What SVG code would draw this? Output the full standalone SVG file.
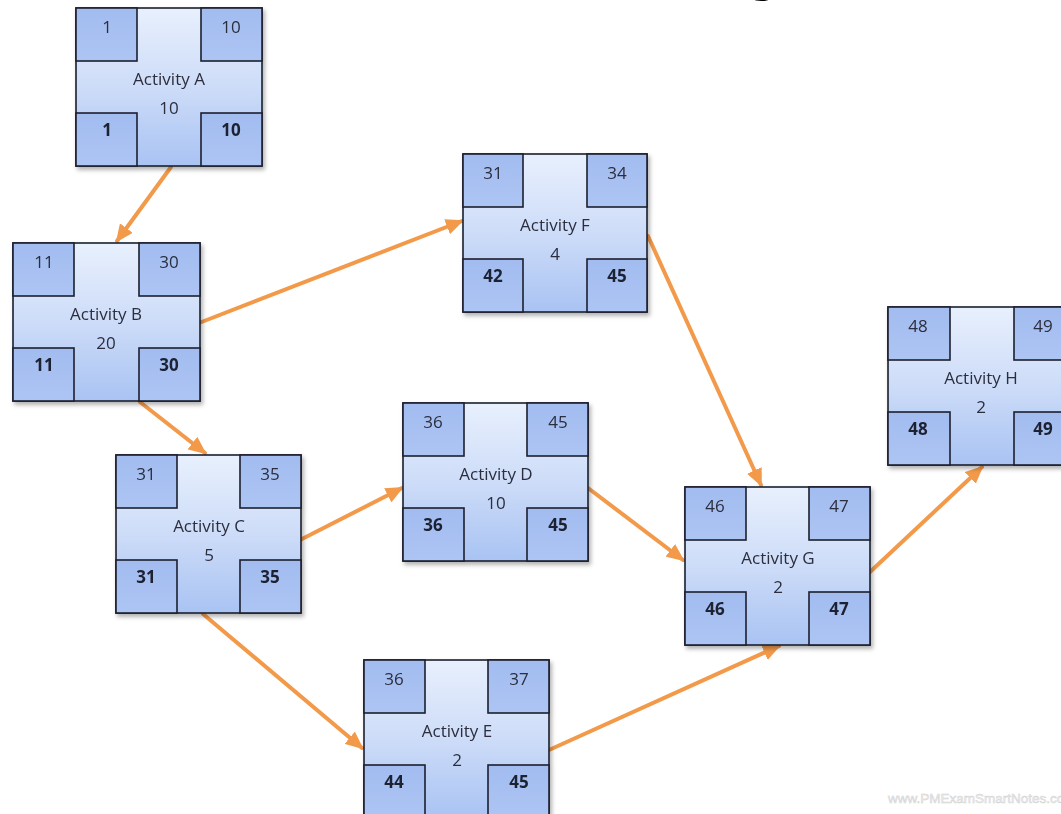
<svg xmlns="http://www.w3.org/2000/svg" width="1061" height="814" viewBox="0 0 1061 814">
<style>
.bg{fill:url(#ng);stroke:#1c1f2e;stroke-width:1.6}
.cb{fill:url(#cg);stroke:#1c1f2e;stroke-width:1.6}
.n{font-family:"Open Sans","Liberation Sans",sans-serif;font-size:17px;fill:#2b2d3d;text-anchor:middle}
.nb{font-family:"Open Sans","Liberation Sans",sans-serif;font-size:17px;font-weight:bold;fill:#1d2033;text-anchor:middle}
.t{font-family:"Open Sans","Liberation Sans",sans-serif;font-size:17px;fill:#2b2d3d;text-anchor:middle}
.e{fill:none;stroke:#f29a4a;stroke-width:4;stroke-linecap:round;marker-end:url(#ah)}
.wm{font-family:"Liberation Sans",sans-serif;font-size:13.5px;fill:#f4f4f4;stroke:#d0d0d0;stroke-width:0.5}
.ttl{font-family:"Liberation Sans",sans-serif;font-size:60px;font-weight:bold;fill:#000;text-anchor:middle}
</style>
<defs>
<linearGradient id="ng" x1="0" y1="0" x2="0" y2="1">
<stop offset="0" stop-color="#e8f0fd"/>
<stop offset="0.5" stop-color="#cddcf8"/>
<stop offset="1" stop-color="#a9c3f3"/>
</linearGradient>
<linearGradient id="cg" x1="0" y1="0" x2="0" y2="1">
<stop offset="0" stop-color="#a2bcf0"/>
<stop offset="1" stop-color="#adc5f3"/>
</linearGradient>
<filter id="sh" x="-10%" y="-10%" width="125%" height="125%">
<feDropShadow dx="2" dy="3" stdDeviation="2" flood-color="#000" flood-opacity="0.3"/>
</filter>
<marker id="ah" markerUnits="userSpaceOnUse" markerWidth="18" markerHeight="16" refX="16" refY="8" orient="auto">
<path d="M0,0 L18,8 L0,16 z" fill="#f29a4a"/>
</marker>
</defs>
<rect width="1061" height="814" fill="#fff"/>
<text class="ttl" x="762" y="-11">g</text>

<g id="connectors">
<line class="e" x1="171" y1="167" x2="117" y2="241"/>
<line class="e" x1="199" y1="323" x2="462" y2="221"/>
<line class="e" x1="140" y1="402" x2="205" y2="453"/>
<line class="e" x1="300" y1="540" x2="402" y2="488"/>
<line class="e" x1="203" y1="614" x2="362" y2="748"/>
<line class="e" x1="588" y1="488" x2="683" y2="560"/>
<line class="e" x1="549" y1="750" x2="779" y2="646"/>
<line class="e" x1="648" y1="236" x2="761" y2="485"/>
<line class="e" x1="870" y1="572" x2="982" y2="467"/>
</g>

<g id="nodeA" transform="translate(76,8)" filter="url(#sh)">
<rect class="bg" width="186" height="158"/>
<rect class="cb" width="61" height="53"/><rect class="cb" x="125" width="61" height="53"/>
<rect class="cb" y="105" width="61" height="53"/><rect class="cb" x="125" y="105" width="61" height="53"/>
<text class="n" x="31" y="25">1</text><text class="n" x="155" y="25">10</text>
<text class="t" x="93" y="77">Activity A</text><text class="t" x="93" y="106">10</text>
<text class="nb" x="31" y="128">1</text><text class="nb" x="155" y="128">10</text>
</g>

<g id="nodeB" transform="translate(13,243)" filter="url(#sh)">
<rect class="bg" width="187" height="158"/>
<rect class="cb" width="61" height="53"/><rect class="cb" x="126" width="61" height="53"/>
<rect class="cb" y="105" width="61" height="53"/><rect class="cb" x="126" y="105" width="61" height="53"/>
<text class="n" x="31" y="25">11</text><text class="n" x="156" y="25">30</text>
<text class="t" x="93" y="77">Activity B</text><text class="t" x="93" y="106">20</text>
<text class="nb" x="31" y="128">11</text><text class="nb" x="156" y="128">30</text>
</g>

<g id="nodeC" transform="translate(116,455)" filter="url(#sh)">
<rect class="bg" width="185" height="158"/>
<rect class="cb" width="61" height="53"/><rect class="cb" x="124" width="61" height="53"/>
<rect class="cb" y="105" width="61" height="53"/><rect class="cb" x="124" y="105" width="61" height="53"/>
<text class="n" x="30" y="25">31</text><text class="n" x="154" y="25">35</text>
<text class="t" x="93" y="77">Activity C</text><text class="t" x="93" y="106">5</text>
<text class="nb" x="30" y="128">31</text><text class="nb" x="154" y="128">35</text>
</g>

<g id="nodeD" transform="translate(403,403)" filter="url(#sh)">
<rect class="bg" width="185" height="158"/>
<rect class="cb" width="61" height="53"/><rect class="cb" x="124" width="61" height="53"/>
<rect class="cb" y="105" width="61" height="53"/><rect class="cb" x="124" y="105" width="61" height="53"/>
<text class="n" x="30" y="25">36</text><text class="n" x="155" y="25">45</text>
<text class="t" x="93" y="77">Activity D</text><text class="t" x="93" y="106">10</text>
<text class="nb" x="30" y="128">36</text><text class="nb" x="155" y="128">45</text>
</g>

<g id="nodeE" transform="translate(364,660)" filter="url(#sh)">
<rect class="bg" width="185" height="158"/>
<rect class="cb" width="61" height="53"/><rect class="cb" x="124" width="61" height="53"/>
<rect class="cb" y="105" width="61" height="53"/><rect class="cb" x="124" y="105" width="61" height="53"/>
<text class="n" x="30" y="25">36</text><text class="n" x="155" y="25">37</text>
<text class="t" x="93" y="77">Activity E</text><text class="t" x="93" y="106">2</text>
<text class="nb" x="30" y="128">44</text><text class="nb" x="155" y="128">45</text>
</g>

<g id="nodeF" transform="translate(463,154)" filter="url(#sh)">
<rect class="bg" width="184" height="158"/>
<rect class="cb" width="60" height="53"/><rect class="cb" x="124" width="60" height="53"/>
<rect class="cb" y="105" width="60" height="53"/><rect class="cb" x="124" y="105" width="60" height="53"/>
<text class="n" x="30" y="25">31</text><text class="n" x="154" y="25">34</text>
<text class="t" x="92" y="77">Activity F</text><text class="t" x="92" y="106">4</text>
<text class="nb" x="30" y="128">42</text><text class="nb" x="154" y="128">45</text>
</g>

<g id="nodeG" transform="translate(685,487)" filter="url(#sh)">
<rect class="bg" width="185" height="158"/>
<rect class="cb" width="61" height="53"/><rect class="cb" x="124" width="61" height="53"/>
<rect class="cb" y="105" width="61" height="53"/><rect class="cb" x="124" y="105" width="61" height="53"/>
<text class="n" x="30" y="25">46</text><text class="n" x="154" y="25">47</text>
<text class="t" x="93" y="77">Activity G</text><text class="t" x="93" y="106">2</text>
<text class="nb" x="30" y="128">46</text><text class="nb" x="154" y="128">47</text>
</g>

<g id="nodeH" transform="translate(888,307)" filter="url(#sh)">
<rect class="bg" width="186" height="158"/>
<rect class="cb" width="62" height="53"/><rect class="cb" x="126" width="60" height="53"/>
<rect class="cb" y="105" width="62" height="53"/><rect class="cb" x="126" y="105" width="60" height="53"/>
<text class="n" x="30" y="25">48</text><text class="n" x="155" y="25">49</text>
<text class="t" x="93" y="77">Activity H</text><text class="t" x="93" y="106">2</text>
<text class="nb" x="30" y="128">48</text><text class="nb" x="155" y="128">49</text>
</g>

<text class="wm" x="888" y="803">www.PMExamSmartNotes.com</text>
</svg>
